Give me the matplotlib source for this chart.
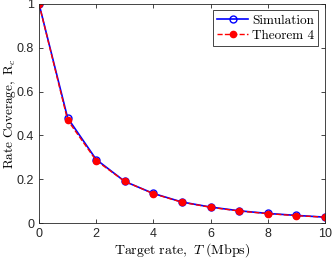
import matplotlib
matplotlib.use("Agg")
import matplotlib.pyplot as plt

# Data
target_rate = [0, 1, 2, 3, 4, 5, 6, 7, 8, 9, 10]
simulation = [1.0, 0.48, 0.29, 0.19, 0.135, 0.096, 0.073, 0.056, 0.044, 0.035, 0.027]
theorem4 = [1.0, 0.47, 0.285, 0.19, 0.134, 0.095, 0.072, 0.055, 0.043, 0.034, 0.027]

plt.rcParams["font.family"] = "Liberation Sans"
plt.rcParams["mathtext.fontset"] = "cm"

fig = plt.figure(figsize=(3.32, 2.6), dpi=100)
ax = fig.add_axes([0.1175, 0.142, 0.8615, 0.843])

ax.plot(target_rate, simulation, color="blue", linestyle="-", marker="o",
        markersize=5, markerfacecolor="none", markeredgewidth=1.0, lw=1.2,
        label="Simulation")
ax.plot(target_rate, theorem4, color="red", linestyle="--", marker="o",
        markersize=4.5, markerfacecolor="red", markeredgecolor="red", lw=1.0,
        label="Theorem 4")

ax.set_xlim(0, 10)
ax.set_ylim(0, 1)
ax.set_xticks([0, 2, 4, 6, 8, 10])
ax.set_yticks([0, 0.2, 0.4, 0.6, 0.8, 1])
ax.set_yticklabels(["0", "0.2", "0.4", "0.6", "0.8", "1"])
ax.tick_params(direction="in", top=True, right=True, labelsize=9,
               colors="#262626", length=3, width=0.6)
for s in ax.spines.values():
    s.set_color("#262626")
    s.set_linewidth(0.6)

ax.set_xlabel(r"$\mathrm{Target\ rate,}\ T\ \mathrm{(Mbps)}$", fontsize=10, labelpad=1)
ax.set_ylabel(r"$\mathrm{Rate\ Coverage,}\ \mathrm{R}_c$", fontsize=9.5)
ax.yaxis.set_label_coords(-0.075, 0.5)

leg = ax.legend(loc="upper right", prop={"family": "cmr10", "size": 9.5},
                fancybox=False, edgecolor="#262626", framealpha=1,
                handlelength=2.4, borderpad=0.3, labelspacing=0.2,
                handletextpad=0.3, borderaxespad=0.5)
leg.get_frame().set_linewidth(0.6)

fig.savefig("out.png", dpi=100)
